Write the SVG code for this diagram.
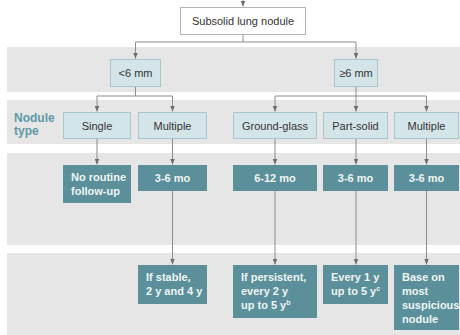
<svg xmlns="http://www.w3.org/2000/svg" width="460" height="335" viewBox="0 0 460 335">
<defs>
<style>
.band{fill:#e6e6e6}
.top{fill:#ffffff;stroke:#b4b4b4;stroke-width:1}
.lt{fill:#d3e5e8;stroke:#a9c6cc;stroke-width:1}
.tl{fill:#5b8f99}
.c{fill:none;stroke:#8c8c8c;stroke-width:1}
.tx{font-family:"Liberation Sans",Arial,sans-serif;font-size:11px;fill:#333333}
.wt{font-family:"Liberation Sans",Arial,sans-serif;font-size:11px;fill:#eef5f6;font-weight:bold}
.lab{font-family:"Liberation Sans",Arial,sans-serif;font-size:12px;fill:#5f98a6;font-weight:bold}
</style>
<marker id="ah" viewBox="0 0 6 5" refX="6" refY="2.5" markerWidth="6" markerHeight="5" markerUnits="userSpaceOnUse" orient="auto">
<path d="M0,0 L6,2.5 L0,5 z" fill="#6e6e6e"/>
</marker>
</defs>
<rect width="460" height="335" fill="#ffffff"/>
<g id="bands">
<rect class="band" x="7" y="47" width="453" height="45"/>
<rect class="band" x="7" y="100" width="453" height="44"/>
<rect class="band" x="7" y="153" width="453" height="92"/>
<rect class="band" x="7" y="253" width="453" height="82"/>
<text class="lab" x="14" y="122">Nodule</text>
<text class="lab" x="14" y="135">type</text>
</g>
<g id="connectors">
<path class="c" d="M243,-2 V6.5" marker-end="url(#ah)"/>
<path class="c" d="M243,34 V42 M135.5,42 H356"/>
<path class="c" d="M135.5,42 V58.5" marker-end="url(#ah)"/>
<path class="c" d="M356,42 V58.5" marker-end="url(#ah)"/>
<path class="c" d="M135.5,86 V96 M97,96 H172.5"/>
<path class="c" d="M97,96 V111.5" marker-end="url(#ah)"/>
<path class="c" d="M172.5,96 V111.5" marker-end="url(#ah)"/>
<path class="c" d="M356,86 V96 M275,96 H426.5"/>
<path class="c" d="M275,96 V111.5" marker-end="url(#ah)"/>
<path class="c" d="M356,96 V111.5" marker-end="url(#ah)"/>
<path class="c" d="M426.5,96 V111.5" marker-end="url(#ah)"/>
<path class="c" d="M97,139 V164.5" marker-end="url(#ah)"/>
<path class="c" d="M172.5,139 V164.5" marker-end="url(#ah)"/>
<path class="c" d="M275,139 V164.5" marker-end="url(#ah)"/>
<path class="c" d="M356,139 V164.5" marker-end="url(#ah)"/>
<path class="c" d="M426.5,139 V164.5" marker-end="url(#ah)"/>
<path class="c" d="M172.5,191 V264.5" marker-end="url(#ah)"/>
<path class="c" d="M275,191 V264.5" marker-end="url(#ah)"/>
<path class="c" d="M356,191 V264.5" marker-end="url(#ah)"/>
<path class="c" d="M426.5,191 V264.5" marker-end="url(#ah)"/>
</g>
<g id="n-root">
<rect class="top" x="180.5" y="7.5" width="125" height="27"/>
<text class="tx" x="243" y="25" text-anchor="middle">Subsolid lung nodule</text>
</g>
<g id="n-lt6">
<rect class="lt" x="110.5" y="59.5" width="50" height="27"/>
<text class="tx" x="135.5" y="77" text-anchor="middle">&lt;6 mm</text>
</g>
<g id="n-ge6">
<rect class="lt" x="334.5" y="59.5" width="43" height="27"/>
<text class="tx" x="356" y="77" text-anchor="middle">≥6 mm</text>
</g>
<g id="n-single">
<rect class="lt" x="63.5" y="112.5" width="67" height="26"/>
<text class="tx" x="97" y="129.5" text-anchor="middle">Single</text>
</g>
<g id="n-multiple1">
<rect class="lt" x="138.5" y="112.5" width="68" height="26"/>
<text class="tx" x="172.5" y="129.5" text-anchor="middle">Multiple</text>
</g>
<g id="n-ground">
<rect class="lt" x="233.5" y="112.5" width="83" height="26"/>
<text class="tx" x="275" y="129.5" text-anchor="middle">Ground-glass</text>
</g>
<g id="n-part">
<rect class="lt" x="323.5" y="112.5" width="64" height="26"/>
<text class="tx" x="355.5" y="129.5" text-anchor="middle">Part-solid</text>
</g>
<g id="n-multiple2">
<rect class="lt" x="394.5" y="112.5" width="64" height="26"/>
<text class="tx" x="426.5" y="129.5" text-anchor="middle">Multiple</text>
</g>
<g id="n-noroutine">
<rect class="tl" x="63" y="165" width="68" height="38"/>
<text class="wt" x="71" y="181">No routine</text>
<text class="wt" x="71" y="195">follow-up</text>
</g>
<g id="n-mo1">
<rect class="tl" x="138" y="165" width="69" height="26"/>
<text class="wt" x="172.5" y="182" text-anchor="middle">3-6 mo</text>
</g>
<g id="n-mo2">
<rect class="tl" x="233" y="165" width="84" height="26"/>
<text class="wt" x="275" y="182" text-anchor="middle">6-12 mo</text>
</g>
<g id="n-mo3">
<rect class="tl" x="323" y="165" width="65" height="26"/>
<text class="wt" x="355.5" y="182" text-anchor="middle">3-6 mo</text>
</g>
<g id="n-mo4">
<rect class="tl" x="394" y="165" width="65" height="26"/>
<text class="wt" x="426.5" y="182" text-anchor="middle">3-6 mo</text>
</g>
<g id="n-stable">
<rect class="tl" x="138" y="265" width="69" height="39"/>
<text class="wt" x="146" y="281">If stable,</text>
<text class="wt" x="146" y="295">2 y and 4 y</text>
</g>
<g id="n-persistent">
<rect class="tl" x="233" y="265" width="84" height="53"/>
<text class="wt" x="241" y="281">If persistent,</text>
<text class="wt" x="241" y="295">every 2 y</text>
<text class="wt" x="241" y="309">up to 5 y<tspan font-size="7" dy="-4">b</tspan></text>
</g>
<g id="n-every1">
<rect class="tl" x="323" y="265" width="65" height="39"/>
<text class="wt" x="331" y="281">Every 1 y</text>
<text class="wt" x="331" y="295">up to 5 y<tspan font-size="7" dy="-4">c</tspan></text>
</g>
<g id="n-base">
<rect class="tl" x="394" y="265" width="65" height="65"/>
<text class="wt" x="402" y="281">Base on</text>
<text class="wt" x="402" y="295">most</text>
<text class="wt" x="402" y="309">suspicious</text>
<text class="wt" x="402" y="323">nodule</text>
</g>
</svg>
